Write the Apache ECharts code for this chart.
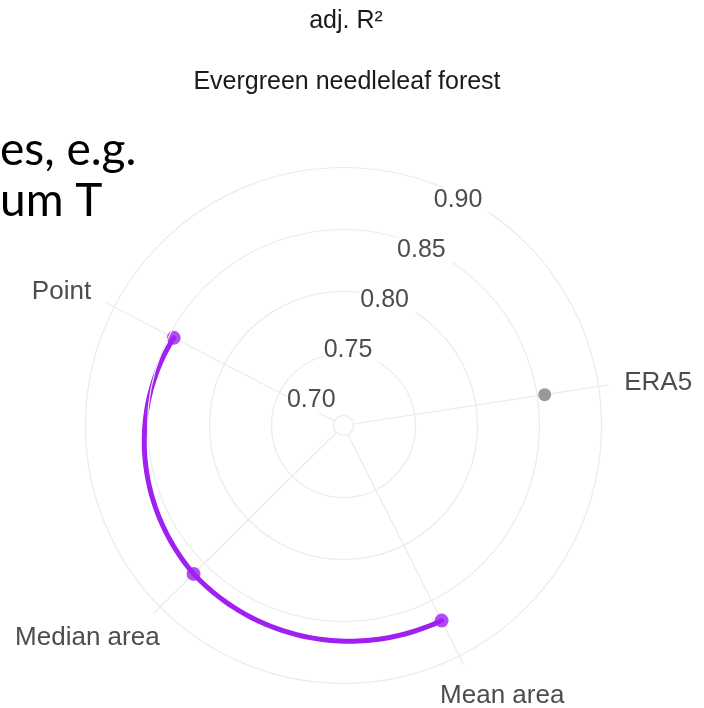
<!DOCTYPE html>
<html><head><meta charset="utf-8">
<script src="https://cdn.jsdelivr.net/npm/echarts@6/dist/echarts.min.js"></script>
<style>html,body{margin:0;padding:0;background:#fff}#c{width:704px;height:708px}</style>
</head><body><div id="c"></div>
<script>
// ---- data ----
const angleCategories = ['ERA5', '', 'Point', 'Median area', 'Mean area'];
const radialTicks = [0.70, 0.75, 0.80, 0.85, 0.90];
const era5Categories = ['ERA5'];
const era5Values = [0.856];
const areaCategories = ['Point', 'Median area', 'Mean area'];
const areaValues = [0.846, 0.862, 0.868];
const titleText = 'adj. R²';
const subtitleText = 'Evergreen needleleaf forest';
const overlayLines = ['es, e.g.', 'um T'];

// ---- styles ----
const FONT = 'Liberation Sans, Arial, sans-serif';
const GRID = '#EBEBEB';
const TXT = '#4D4D4D';
const PURPLE = '#A020F0';
const GREY = '#7F7F7F';
const CENTER = [343.5, 425.5];
const rMin = radialTicks[0];
const rTop = radialTicks[radialTicks.length - 1];
const rStep = 0.05;
const rMax = 0.908;
// label nudges (padding, px) for the angular labels
const labelPadding = {
  'ERA5': [0, 0, 8, 0],
  'Point': [0, 0, -10, 0],
  'Median area': [0, -18, 0, 0],
  'Mean area': [4, 0, 0, -31]
};

const chart = echarts.init(document.getElementById('c'), null, {renderer: 'canvas'});

function arcItem(params, api) {
  const i = params.dataIndex;
  if (i >= areaCategories.length - 1) return null;
  const cs = params.coordSys;
  const cx = cs.cx, cy = cs.cy;
  const p0 = api.coord([areaValues[i], areaCategories[i]]);
  const p1 = api.coord([areaValues[i + 1], areaCategories[i + 1]]);
  let a0 = Math.atan2(-(p0[1] - cy), p0[0] - cx);
  let a1 = Math.atan2(-(p1[1] - cy), p1[0] - cx);
  while (a1 < a0) a1 += Math.PI * 2;
  const r0 = Math.hypot(p0[0] - cx, p0[1] - cy);
  const r1 = Math.hypot(p1[0] - cx, p1[1] - cy);
  const pts = [];
  const N = 60;
  for (let k = 0; k <= N; k++) {
    const t = k / N;
    const a = a0 + (a1 - a0) * t;
    const r = r0 + (r1 - r0) * t;
    pts.push([cx + r * Math.cos(a), cy - r * Math.sin(a)]);
  }
  return {
    type: 'polyline',
    shape: {points: pts},
    style: {stroke: PURPLE, lineWidth: 5, fill: null, lineCap: 'round', lineJoin: 'round'}
  };
}

const spokeFilter = (i, v) => v !== '';

chart.setOption({
  animation: false,
  backgroundColor: '#fff',
  polar: [
    {center: CENTER, radius: [10, 268]},
    {center: CENTER, radius: [10, 258]}
  ],
  angleAxis: [
    {
      polarIndex: 0, type: 'category', boundaryGap: false,
      data: angleCategories.map(c => labelPadding[c] ? {value: c, textStyle: {padding: labelPadding[c]}} : c),
      startAngle: 8.7, clockwise: false,
      axisLine: {show: false},
      axisTick: {show: false, interval: spokeFilter},
      axisLabel: {show: true, interval: spokeFilter, margin: 16, color: TXT, fontSize: 26, fontFamily: FONT},
      splitLine: {show: true, interval: spokeFilter, lineStyle: {color: GRID, width: 1.2}}
    },
    {
      polarIndex: 1, type: 'value', startAngle: 53.7, min: 0, max: 360,
      axisLine: {show: false}, axisTick: {show: false}, axisLabel: {show: false}, splitLine: {show: false}
    }
  ],
  radiusAxis: [
    {
      polarIndex: 0, type: 'value', min: rMin, max: rMax, interval: rStep,
      axisLine: {show: false}, axisTick: {show: false}, axisLabel: {show: false}, splitLine: {show: false}
    },
    {
      polarIndex: 1, type: 'value', min: rMin, max: rTop, interval: rStep, z: 5,
      axisLine: {show: false}, axisTick: {show: false},
      splitLine: {show: true, lineStyle: {color: GRID, width: 1.2}},
      axisLabel: {
        show: true, margin: 43, align: 'center', verticalAlign: 'middle',
        color: TXT, fontSize: 25, fontFamily: FONT,
        formatter: v => '{s|}\n{n|' + v.toFixed(2) + '}',
        rich: {
          s: {height: 16, lineHeight: 16, fontSize: 2},
          n: {fontSize: 25, lineHeight: 29, fontFamily: FONT, color: TXT, backgroundColor: '#fff', padding: [0, 7, 0, 0]}
        }
      }
    }
  ],
  series: [
    {
      type: 'custom', coordinateSystem: 'polar', polarIndex: 0, z: 3,
      data: areaCategories.map((c, i) => [areaValues[i], c]),
      renderItem: arcItem, silent: true
    },
    {
      type: 'scatter', coordinateSystem: 'polar', polarIndex: 0, z: 4,
      data: areaCategories.map((c, i) => [areaValues[i], c]),
      symbol: 'circle', symbolSize: 14, itemStyle: {color: PURPLE}
    },
    {
      type: 'scatter', coordinateSystem: 'polar', polarIndex: 0, z: 4,
      data: era5Categories.map((c, i) => [era5Values[i], c]),
      symbol: 'circle', symbolSize: 13, itemStyle: {color: GREY}
    }
  ],
  graphic: [
    {type: 'text', x: 346, y: 21, z: 10, style: {text: titleText, textAlign: 'center', textVerticalAlign: 'middle', fontSize: 25, fontFamily: FONT, fill: '#1A1A1A'}},
    {type: 'text', x: 347, y: 82, z: 10, style: {text: subtitleText, textAlign: 'center', textVerticalAlign: 'middle', fontSize: 25, fontFamily: FONT, fill: '#1A1A1A'}},
    {type: 'text', x: 0, y: 150, z: 10, style: {text: overlayLines[0], textAlign: 'left', textVerticalAlign: 'middle', fontSize: 46, fontFamily: 'Lato, Open Sans, sans-serif', fill: '#000'}},
    {type: 'text', x: 0, y: 201, z: 10, style: {text: overlayLines[1], textAlign: 'left', textVerticalAlign: 'middle', fontSize: 46, fontFamily: 'Lato, Open Sans, sans-serif', fill: '#000'}}
  ]
});
</script>
</body></html>
